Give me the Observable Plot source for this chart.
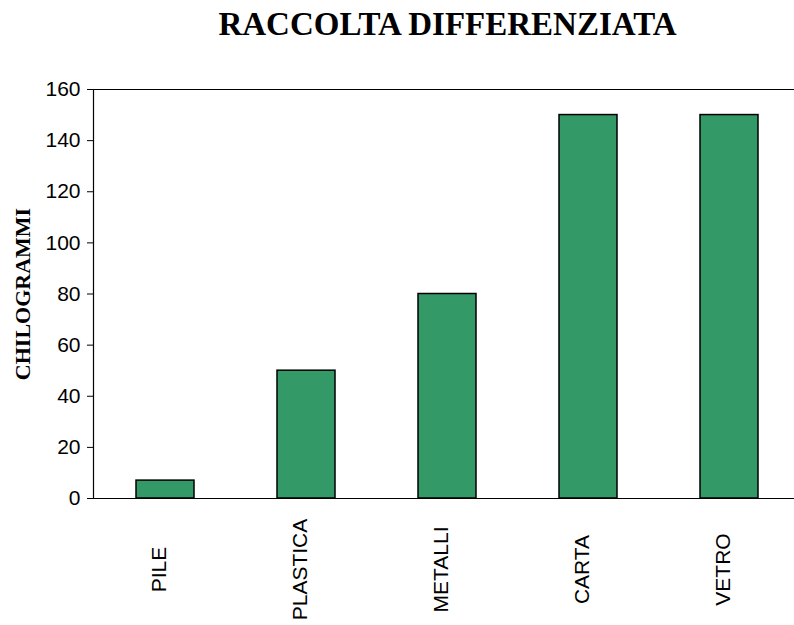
<!DOCTYPE html>
<html>
<head>
<meta charset="utf-8">
<script src="https://cdn.jsdelivr.net/npm/d3@7"></script>
<script src="https://cdn.jsdelivr.net/npm/@observablehq/plot@0.6"></script>
<style>
  html, body { margin: 0; padding: 0; background: #fff; overflow: hidden; }
  svg { display: block; }
</style>
</head>
<body>
<div id="chart"></div>
<script>
const categories = ["PILE", "PLASTICA", "METALLI", "CARTA", "VETRO"];
const values = [7, 50, 80, 150, 150];
const yTicks = [0, 20, 40, 60, 80, 100, 120, 140, 160];
const title = "RACCOLTA DIFFERENZIATA";
const yLabel = "CHILOGRAMMI";

const data = categories.map((c, i) => ({cat: c, val: values[i]}));

const chart = Plot.plot({
  width: 794,
  height: 625,
  marginLeft: 93,
  marginRight: -7,
  marginTop: 89,
  marginBottom: 127,
  style: {fontFamily: "'Liberation Sans', Arial, sans-serif", background: "#fff", color: "#000", overflow: "visible"},
  x: {domain: categories, paddingInner: 0.59, paddingOuter: 0.295, axis: null},
  y: {domain: [0, 160], axis: null},
  marks: [
    Plot.barY(data, {x: "cat", y: "val", fill: "#339966", stroke: "#000", strokeWidth: 1.5}),
    Plot.ruleY([0, 160], {stroke: "#000", strokeWidth: 1.2}),
    Plot.frame({anchor: "left", stroke: "#000", strokeWidth: 1.2}),
    Plot.axisY({ticks: yTicks, tickSize: 6, tickPadding: 7, fontSize: 21, label: null, stroke: "#000", color: "#000"}),
    Plot.text(categories, {x: d => d, frameAnchor: "bottom", dy: 71, rotate: -90, fontSize: 21, textAnchor: "middle", fill: "#000"}),
    Plot.text([title], {frameAnchor: "top", lineAnchor: "middle", textAnchor: "middle", dy: -65, fontSize: 33, fontWeight: "bold", fontFamily: "'Liberation Serif', 'Times New Roman', serif", fill: "#000"}),
    Plot.text([yLabel], {frameAnchor: "left", textAnchor: "middle", lineAnchor: "middle", dx: -71, rotate: -90, fontSize: 22, fontWeight: "bold", fontFamily: "'Liberation Serif', 'Times New Roman', serif", fill: "#000"})
  ]
});
document.getElementById("chart").appendChild(chart);
</script>
</body>
</html>
